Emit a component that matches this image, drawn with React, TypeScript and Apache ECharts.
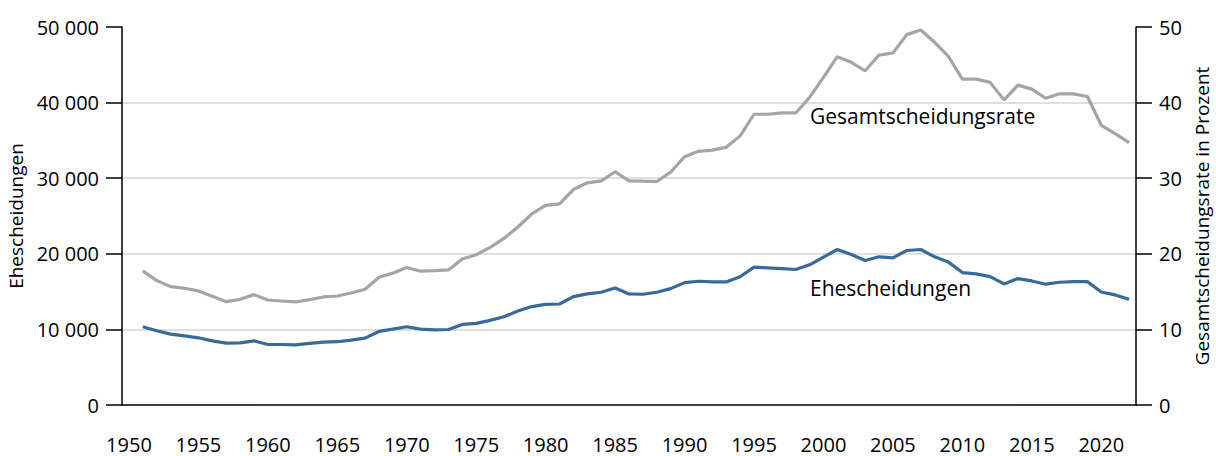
import React, { useEffect, useRef } from "react";
import * as echarts from "echarts";

const years: string[] = [];
for (let y = 1950; y <= 2022; y++) years.push(String(y));

// 1951..2022 (1950 has no value)
const ehescheidungen = [
  10340, 9820, 9380, 9150, 8890, 8490, 8180, 8220, 8490, 8000,
  8000, 7950, 8140, 8310, 8370, 8580, 8840, 9730, 10040, 10350,
  10040, 9950, 9990, 10660, 10800, 11190, 11670, 12430, 13020, 13320,
  13360, 14330, 14690, 14910, 15480, 14690, 14650, 14910, 15390, 16190,
  16370, 16280, 16280, 16970, 18230, 18140, 18050, 17920, 18540, 19560,
  20570, 19910, 19110, 19600, 19470, 20440, 20570, 19600, 18900, 17520,
  17340, 16990, 16020, 16720, 16410, 15980, 16240, 16320, 16320, 14950,
  14560, 13980,
];

const gesamtscheidungsrate = [
  17.74, 16.46, 15.66, 15.44, 15.09, 14.38, 13.67, 13.98, 14.6, 13.89,
  13.76, 13.63, 13.93, 14.29, 14.42, 14.82, 15.31, 16.9, 17.44, 18.18,
  17.7, 17.78, 17.87, 19.3, 19.87, 20.84, 22.03, 23.55, 25.27, 26.41,
  26.6, 28.5, 29.39, 29.65, 30.85, 29.65, 29.6, 29.56, 30.8, 32.84,
  33.55, 33.72, 34.08, 35.6, 38.46, 38.46, 38.63, 38.63, 40.68, 43.33,
  46.07, 45.33, 44.21, 46.29, 46.56, 48.99, 49.61, 47.98, 46.1, 43.1,
  43.1, 42.67, 40.36, 42.31, 41.78, 40.58, 41.16, 41.16, 40.81, 37.0,
  35.9, 34.7,
];

const FONT = "'Open Sans', sans-serif";

export default function App() {
  const ref = useRef<HTMLDivElement>(null);
  useEffect(() => {
    if (!ref.current) return;
    document.body.style.margin = "0";
    document.body.style.overflow = "hidden";
    const chart = echarts.init(ref.current, null, { renderer: "svg", width: 1216, height: 456 });
    const axisLineStyle = { color: "#000", width: 1.5 };
    const labelStyle = { color: "#000", fontFamily: FONT, fontSize: 20, lineHeight: 20 };
    const nameStyle = { color: "#000", fontFamily: FONT, fontSize: 19, lineHeight: 19 };
    chart.setOption({
      animation: false,
      grid: {
        left: 122,
        right: 80,
        top: 27,
        bottom: 51,
        containLabel: false,
        outerBoundsMode: "none",
      },
      xAxis: {
        type: "category",
        data: years,
        boundaryGap: true,
        axisLine: { lineStyle: axisLineStyle },
        axisTick: { interval: 4, alignWithLabel: true, length: 15, lineStyle: axisLineStyle },
        axisLabel: { interval: 4, margin: 29, ...labelStyle },
        splitLine: { show: false },
      },
      yAxis: [
        {
          type: "value",
          min: 0,
          max: 50000,
          interval: 10000,
          name: "Ehescheidungen",
          nameLocation: "middle",
          nameGap: 94,
          nameTextStyle: nameStyle,
          axisLine: { show: true, lineStyle: axisLineStyle },
          axisTick: { show: true, length: 16, lineStyle: axisLineStyle },
          axisLabel: {
            margin: 23,
            ...labelStyle,
            formatter: (v: number) => {
              if (v === 0) return "0";
              const s = String(v);
              return s.slice(0, s.length - 3) + " " + s.slice(s.length - 3);
            },
          },
          splitLine: {
            show: true,
            showMinLine: false,
            showMaxLine: false,
            lineStyle: { color: "#d4d4d4", width: 1.5 },
          },
        },
        {
          type: "value",
          min: 0,
          max: 50,
          interval: 10,
          position: "right",
          name: "Gesamtscheidungsrate in Prozent",
          nameLocation: "middle",
          nameGap: 56,
          nameTextStyle: nameStyle,
          axisLine: { show: true, lineStyle: axisLineStyle },
          axisTick: { show: true, length: 16, lineStyle: axisLineStyle },
          axisLabel: { margin: 23, ...labelStyle },
          splitLine: { show: false },
        },
      ],
      series: [
        {
          name: "Ehescheidungen",
          type: "line",
          yAxisIndex: 0,
          data: [null, ...ehescheidungen],
          showSymbol: false,
          symbol: "none",
          lineStyle: { color: "#386b9b", width: 3.2 },
          itemStyle: { color: "#386b9b" },
          z: 3,
        },
        {
          name: "Gesamtscheidungsrate",
          type: "line",
          yAxisIndex: 1,
          data: [null, ...gesamtscheidungsrate],
          showSymbol: false,
          symbol: "none",
          lineStyle: { color: "#a5a5a5", width: 3.2 },
          itemStyle: { color: "#a5a5a5" },
          z: 2,
        },
      ],
      graphic: [
        {
          type: "text",
          left: 810,
          top: 105,
          style: { text: "Gesamtscheidungsrate", fill: "#000", font: `21px ${FONT}` },
        },
        {
          type: "text",
          left: 810,
          top: 277,
          style: { text: "Ehescheidungen", fill: "#000", font: `21px ${FONT}` },
        },
      ],
    });
    return () => chart.dispose();
  }, []);
  return (
    <div
      ref={ref}
      style={{ position: "absolute", left: 0, top: 0, width: 1216, height: 456, background: "#fff" }}
    />
  );
}
